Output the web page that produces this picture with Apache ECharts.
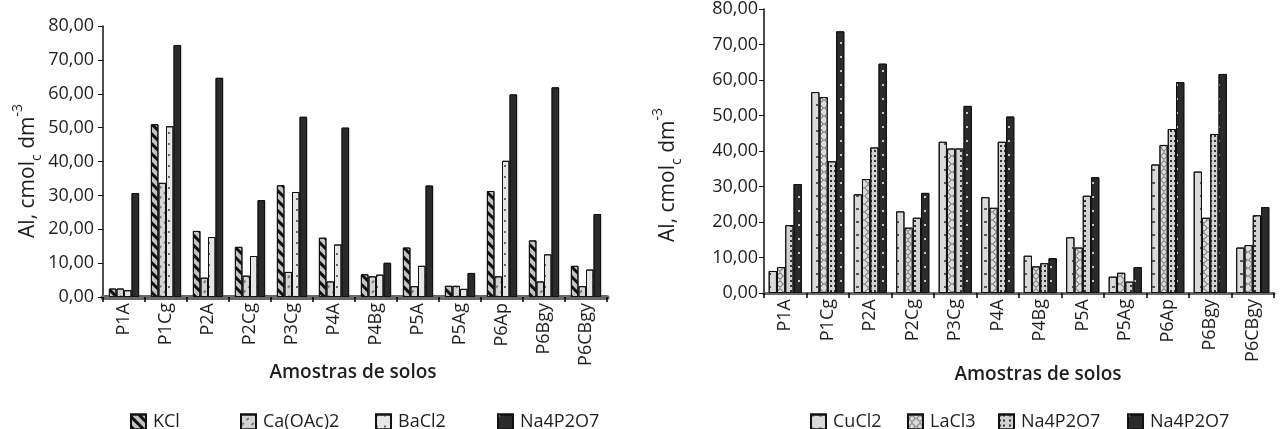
<!DOCTYPE html>
<html>
<head>
<meta charset="utf-8">
<script src="https://cdn.jsdelivr.net/npm/echarts@6/dist/echarts.min.js"></script>
<style>
  html, body { margin: 0; padding: 0; background: #fff; }
  #chart { width: 1281px; height: 429px; }
</style>
</head>
<body>
<div id="chart"></div>
<script>
// amostras de solos (eixo x, comum aos dois graficos)
var categories = ['P1A', 'P1Cg', 'P2A', 'P2Cg', 'P3Cg', 'P4A', 'P4Bg', 'P5A', 'P5Ag', 'P6Ap', 'P6Bgy', 'P6CBgy'];
var yTicks = [0, 10, 20, 30, 40, 50, 60, 70, 80];

// grafico da esquerda
var kcl = [2.5, 51.0, 19.5, 14.8, 33.0, 17.5, 6.7, 14.6, 3.3, 31.3, 16.7, 9.2];
var caOAc = [2.5, 33.7, 5.7, 6.3, 7.4, 4.6, 6.1, 3.2, 3.3, 6.1, 4.6, 3.2];
var bacl = [2.0, 50.4, 17.7, 12.1, 31.0, 15.5, 6.6, 9.2, 2.4, 40.2, 12.6, 8.1];
var naLeft = [30.7, 74.4, 64.7, 28.6, 53.2, 50.0, 10.1, 32.9, 7.1, 59.8, 61.9, 24.5];

// grafico da direita
var cucl = [6.2, 56.6, 27.8, 23.0, 42.6, 27.0, 10.5, 15.7, 4.6, 36.2, 34.2, 12.8];
var lacl = [7.3, 55.2, 32.1, 18.4, 40.7, 24.0, 7.5, 12.8, 5.7, 41.7, 21.2, 13.5];
var naA = [19.1, 37.1, 41.0, 21.2, 40.7, 42.6, 8.4, 27.4, 3.2, 46.2, 44.8, 21.9];
var naB = [30.7, 73.7, 64.6, 28.2, 52.7, 49.7, 9.8, 32.6, 7.3, 59.4, 61.7, 24.2];

var FONT = '"Open Sans", "Noto Sans", sans-serif';

function fmt(v) {
  return v.toFixed(2).replace('.', ',');
}

function xAxisFor(gridIndex) {
  return {
    type: 'category',
    gridIndex: gridIndex,
    data: categories,
    boundaryGap: true,
    axisLine: { lineStyle: { color: '#6a6a6a', width: gridIndex === 0 ? 5 : 3 } },
    axisTick: { show: true, length: 5, lineStyle: { color: '#000', width: 1.5 } },
    axisLabel: { rotate: 90, margin: 6, color: '#1e1e1e', fontSize: 18, fontFamily: FONT, interval: 0 }
  };
}

function yAxisFor(gridIndex) {
  return {
    type: 'value',
    gridIndex: gridIndex,
    min: yTicks[0],
    max: yTicks[yTicks.length - 1],
    interval: 10,
    splitLine: { show: false },
    axisLine: { show: true, lineStyle: { color: '#111', width: 1.5 } },
    axisTick: { show: true, length: 5, lineStyle: { color: '#111' } },
    axisLabel: { margin: gridIndex === 0 ? 9 : 6, color: '#1e1e1e', fontSize: 18, fontFamily: FONT, formatter: fmt }
  };
}

function bar(name, data, axis, color, decal, gap) {
  return {
    name: name,
    type: 'bar',
    xAxisIndex: axis,
    yAxisIndex: axis,
    data: data,
    barGap: '0%',
    barCategoryGap: gap,
    itemStyle: { color: color, borderColor: '#111', borderWidth: 1, decal: decal }
  };
}

// padroes de preenchimento (hachuras)
var stripeDark = { symbol: 'rect', color: '#111', dashArrayX: [1, 0], dashArrayY: [3, 4], rotation: Math.PI / 4 };
var stripeLight = { symbol: 'rect', color: '#7a7a7a', dashArrayX: [[3, 4]], dashArrayY: [1.5, 5], rotation: -Math.PI / 4 };
var dotsSparse = { symbol: 'rect', symbolSize: 1, color: '#666', dashArrayX: [[2, 6]], dashArrayY: [2, 9] };
var dotsWhite = { symbol: 'rect', symbolSize: 1, color: '#c8c8c8', dashArrayX: [[2, 12]], dashArrayY: [2, 12] };
var dashes = { symbol: 'rect', symbolSize: 1, color: '#555', dashArrayX: [[3, 5]], dashArrayY: [1.5, 11] };
var crossHatch = {
  symbol: 'path://M5,0L10,5L5,10L0,5Z M5,1.6L1.6,5L5,8.4L8.4,5Z',
  symbolSize: 1, color: '#6e6e6e', dashArrayX: [[8, 0]], dashArrayY: [8, 0]
};
var brick = { symbol: 'rect', symbolSize: 1, color: '#333', dashArrayX: [[2, 2, 2, 4]], dashArrayY: [2, 3] };

var legendSpots = [
  { name: 'KCl', left: 125 },
  { name: 'Ca(OAc)2', left: 235 },
  { name: 'BaCl2', left: 370 },
  { name: 'Na4P2O7', left: 492 },
  { name: 'CuCl2', left: 805 },
  { name: 'LaCl3', left: 902 },
  { name: 'Na4P2O7 (b)', left: 993 },
  { name: 'Na4P2O7 (d)', left: 1122 }
];

var legends = legendSpots.map(function (s) {
  return {
    data: [s.name],
    left: s.left,
    top: 408,
    icon: 'rect',
    itemWidth: 15,
    itemHeight: 15,
    selectedMode: false,
    formatter: function (n) { return n.replace(/ \(\w\)$/, ''); },
    textStyle: { fontSize: 18, fontFamily: FONT, color: '#1e1e1e', padding: [0, 0, 0, 2] }
  };
});

var subSup = {
  sub: { fontSize: 14, fontFamily: FONT, verticalAlign: 'bottom', lineHeight: 14, padding: [0, 0, -6, 0] },
  sup: { fontSize: 14, fontFamily: FONT, verticalAlign: 'top', lineHeight: 14, padding: [-6, 0, 0, 0] }
};

var chart = echarts.init(document.getElementById('chart'));
chart.setOption({
  backgroundColor: '#fff',
  animation: false,
  grid: [
    { left: 103, top: 26, width: 504, height: 271 },
    { left: 764, top: 7, width: 510, height: 286 }
  ],
  xAxis: [xAxisFor(0), xAxisFor(1)],
  yAxis: [yAxisFor(0), yAxisFor(1)],
  legend: legends,
  graphic: [
    { type: 'text', x: 353, y: 373, style: { text: 'Amostras de solos', fill: '#1e1e1e', font: '600 19px ' + FONT, align: 'center', verticalAlign: 'middle' } },
    { type: 'text', x: 1038, y: 375, style: { text: 'Amostras de solos', fill: '#1e1e1e', font: '600 19px ' + FONT, align: 'center', verticalAlign: 'middle' } },
    { type: 'text', x: 28, y: 171, rotation: Math.PI / 2, style: {
      text: 'Al, cmol{sub|c} dm{sup|-3}', fill: '#1e1e1e', font: '21px ' + FONT, align: 'center', verticalAlign: 'middle', rich: subSup
    } },
    { type: 'text', x: 668, y: 175, rotation: Math.PI / 2, style: {
      text: 'Al, cmol{sub|c} dm{sup|-3}', fill: '#1e1e1e', font: '21px ' + FONT, align: 'center', verticalAlign: 'middle', rich: subSup
    } }
  ],
  series: [
    bar('KCl', kcl, 0, '#c4c4c4', stripeDark, '28%'),
    bar('Ca(OAc)2', caOAc, 0, '#d4d4d4', stripeLight, '28%'),
    bar('BaCl2', bacl, 0, '#e6e6e6', dotsSparse, '28%'),
    bar('Na4P2O7', naLeft, 0, '#2b2b2b', dotsWhite, '28%'),
    bar('CuCl2', cucl, 1, '#dadada', dashes, '22%'),
    bar('LaCl3', lacl, 1, '#dcdcdc', crossHatch, '22%'),
    bar('Na4P2O7 (b)', naA, 1, '#d2d2d2', brick, '22%'),
    bar('Na4P2O7 (d)', naB, 1, '#2b2b2b', dotsWhite, '22%')
  ]
});
</script>
</body>
</html>
